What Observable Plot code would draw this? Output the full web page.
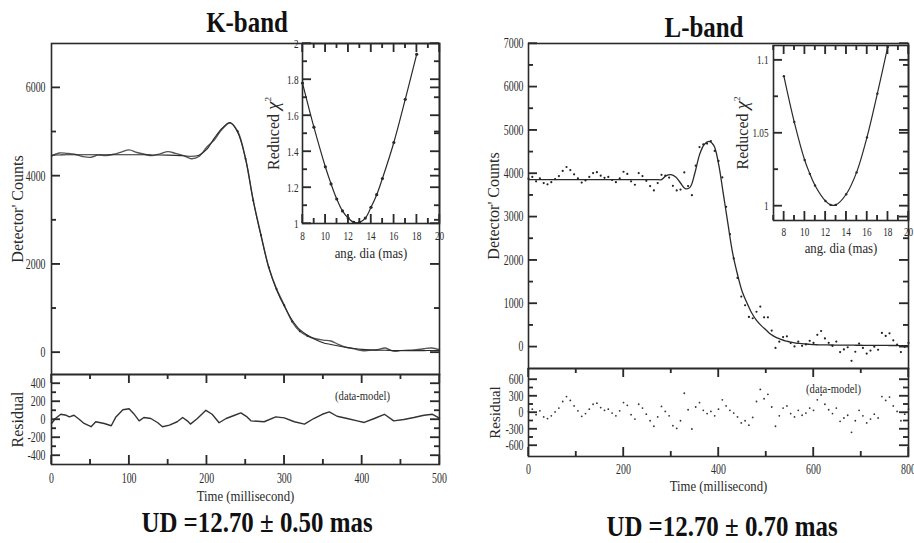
<!DOCTYPE html>
<html><head><meta charset="utf-8">
<script src="https://cdn.jsdelivr.net/npm/d3@7"></script>
<script src="https://cdn.jsdelivr.net/npm/@observablehq/plot@0.6"></script>
<style>
body{margin:0;background:#fff;}
#root{position:relative;width:914px;height:543px;overflow:hidden;font-family:"Liberation Serif","Times New Roman",serif;background:#fff;}
.p{position:absolute;}
.p svg{overflow:visible;background:transparent;}
.ttl{position:absolute;font-weight:bold;font-size:30px;color:#111;white-space:nowrap;line-height:1;transform:translate(-50%,-50%) scaleX(0.83);}
</style></head><body><div id="root"></div>
<script>
// ---------- K-band data ----------
const kTime = [0,10,20,30,40,50,60,70,80,90,100,110,120,130,140,150,160,170,180,190,200,210,220,230,240,250,260,270,280,290,300,310,320,330,340,350,360,370,380,390,400,410,420,430,440,450,460,470,480,490,500];
const kModel = [4470,4475,4480,4480,4480,4480,4480,4480,4480,4480,4480,4480,4478,4475,4472,4470,4465,4455,4445,4470,4600,4860,5080,5210,4983,4400,3440,2640,1920,1420,1045,735,515,390,295,220,180,145,115,90,70,58,52,48,45,43,42,42,42,43,45];
const kData = [4450,4520,4510,4490,4440,4420,4470,4460,4490,4540,4590,4530,4490,4460,4500,4550,4510,4460,4390,4440,4650,4820,5060,5200,5010,4390,3440,2660,1930,1440,1070,700,480,370,310,280,260,180,115,80,40,50,60,100,30,40,50,60,85,100,60];
const kResTime = [0,5,12,19,23,29,36,42,51,57,68,77,83,92,100,106,113,119,128,137,143,152,162,169,175,179,188,199,207,216,225,236,244,252,257,274,289,300,313,326,338,349,358,368,381,394,403,416,429,441,454,467,480,491,497,500];
const kResid = [-44,11,58,47,29,47,0,-44,-80,-25,-44,-69,29,109,120,65,-15,22,11,-36,-80,-62,-25,22,-15,-51,11,102,58,-36,11,47,73,29,-15,-25,29,18,-25,-51,11,58,84,36,11,-15,-33,11,58,-15,0,22,47,58,29,10];
const kDia = [8,9,10,10.5,11,11.5,12,12.5,13,13.5,14,14.5,15,16,17,18];
const kChi = [1.78,1.535,1.315,1.22,1.136,1.07,1.03,1.006,1.006,1.03,1.09,1.16,1.25,1.45,1.69,1.94];

// ---------- L-band data ----------
const lTime = [0,10,20,30,40,50,60,70,80,90,100,110,120,130,140,150,160,170,180,190,200,210,220,230,240,250,260,270,280,290,300,310,320,330,340,350,360,370,380,390,400,410,420,430,440,450,460,470,480,490,500,510,520,530,540,550,560,570,580,590,600,610,620,630,640,650,660,670,680,690,700,710,720,730,740,750,760,770,780,790,800];
const lModel = [3860,3860,3860,3860,3860,3860,3860,3860,3860,3860,3860,3860,3860,3860,3860,3860,3860,3860,3860,3860,3860,3860,3860,3860,3860,3860,3860,3860,3860,3950,3975,3920,3780,3650,3680,4000,4430,4670,4740,4650,4230,3540,2830,2150,1670,1270,1010,780,610,490,390,290,225,180,140,115,90,80,70,60,50,47,45,43,42,41,40,39,38,37,36,35,34,33,32,32,31,31,30,30,30];
const lObsTime = [0,8,16,24,32,40,48,56,64,72,80,88,96,104,112,120,128,136,144,152,160,168,176,184,192,200,208,216,224,232,240,248,256,264,272,280,288,296,304,312,320,328,336,344,352,360,368,376,384,392,400,408,416,424,432,440,448,456,464,472,480,488,496,504,512,520,528,536,544,552,560,568,576,584,592,600,608,616,624,632,640,648,656,664,672,680,688,696,704,712,720,728,736,744,752,760,768,776,784,792,800];
const lData = [3880,3920,3820,3890,3780,3750,3800,3870,3940,4060,4150,4080,3980,3890,3790,3840,3920,4010,4030,3950,3900,3920,3850,3800,3890,4040,3990,3820,3740,4010,3940,3830,3710,3610,3780,3970,3950,3905,3715,3610,3630,4025,3710,3500,4180,4610,4670,4690,4750,4520,4290,3910,3230,2600,2040,1590,1160,960,690,660,810,930,680,680,375,-25,120,225,242,86,10,122,24,56,138,90,276,365,194,93,22,121,-120,-60,-10,-322,-113,76,-25,-155,-86,3,-67,322,252,311,151,50,-120,0,90];
const lResid = [20,60,-40,30,-80,-110,-60,10,80,200,290,220,120,30,-70,-20,60,150,170,90,40,60,-10,-60,30,180,130,-40,-120,150,80,-30,-150,-250,-80,110,20,-60,-240,-290,-150,350,50,-300,100,180,40,-20,20,-60,60,230,120,40,-10,-80,-190,-150,-230,-90,200,420,250,330,100,-250,-60,80,120,-20,-80,40,-50,-10,80,40,230,320,150,50,-20,80,-160,-100,-50,-360,-150,40,-60,-190,-120,-30,-100,290,220,280,120,20,-150,-30,60];
const lDia = [8,9,10,10.5,11,12,12.5,13,14,15,16,17,18];
const lChi = [1.089,1.0575,1.0315,1.022,1.014,1.0034,1.0007,1.0007,1.008,1.023,1.047,1.077,1.109];

// ---------- tick values ----------
const kYMajor = [0,2000,4000,6000], kYMinor = [1000,3000,5000];
const kXMajor = [0,100,200,300,400,500], kXMinor = [50,150,250,350,450];
const kRMajor = [-400,-200,0,200,400], kRMinor = [-300,-100,100,300];
const kIXMajor = [8,10,12,14,16,18,20], kIXMinor = [9,11,13,15,17,19];
const kIYMajor = [1,1.2,1.4,1.6,1.8,2], kIYMinor = [1.1,1.3,1.5,1.7,1.9];
const lYMajor = [0,1000,2000,3000,4000,5000,6000,7000], lYMinor = [500,1500,2500,3500,4500,5500,6500];
const lXMajor = [0,200,400,600,800], lXMinor = [100,300,500,700];
const lRMajor = [-600,-300,0,300,600], lRMinor = [-450,-150,150,450];
const lIXMajor = [8,10,12,14,16,18,20], lIXMinor = [7,9,11,13,15,17,19];
const lIYMajor = [1,1.05,1.1], lIYMinor = [1.025,1.075];

// ---------- tables ----------
const kMain = kTime.map((t,i)=>({t, model:kModel[i], data:kData[i]}));
const kRes = kResTime.map((t,i)=>({t, r:kResid[i]}));
const kChiT = kDia.map((d,i)=>({d, c:kChi[i]}));
const lMain = lTime.map((t,i)=>({t, model:lModel[i]}));
const lObs = lObsTime.map((t,i)=>({t, v:lData[i], r:lResid[i]}));
const lChiT = lDia.map((d,i)=>({d, c:lChi[i]}));

const C = "#2a2a2a";
const NS = "http://www.w3.org/2000/svg";
const root = document.getElementById("root");

function panel(o) {
  const iw = o.width - o.ml - o.mr, ih = o.height - o.mt - o.mb;
  const M = 9, m = 5, sw = 1.3;
  const [x0, x1] = o.xd, [y0, y1] = o.yd;
  const ux = (x1 - x0) / iw, uy = (y1 - y0) / ih;
  const marks = [];
  const yT = (vals, len) => [
    Plot.ruleY(vals, {y: d => d, x1: x0, x2: x0 + len * ux, stroke: C, strokeWidth: sw}),
    Plot.ruleY(vals, {y: d => d, x1: x1 - len * ux, x2: x1, stroke: C, strokeWidth: sw})];
  const xT = (vals, len) => [
    Plot.ruleX(vals, {x: d => d, y1: y0, y2: y0 + len * uy, stroke: C, strokeWidth: sw}),
    Plot.ruleX(vals, {x: d => d, y1: y1 - len * uy, y2: y1, stroke: C, strokeWidth: sw})];
  if (o.yMaj) marks.push(...yT(o.yMaj, M));
  if (o.yMin) marks.push(...yT(o.yMin, m));
  if (o.xMaj) marks.push(...xT(o.xMaj, M));
  if (o.xMin) marks.push(...xT(o.xMin, m));
  marks.push(...o.marks);
  if (o.yLab) marks.push(Plot.axisY(o.yLab, {anchor: "left", tickSize: 0, tickPadding: o.yPad, fontSize: o.fs, tickFormat: d => String(d), fill: C, stroke: "none", label: null}));
  if (o.xLab) marks.push(Plot.axisX(o.xLab, {anchor: "bottom", tickSize: 0, tickPadding: o.xPad, fontSize: o.fs, tickFormat: d => String(d), fill: C, stroke: "none", label: null}));
  if (o.yTitle) marks.push(Plot.text([o.yTitle], {text: d => d, frameAnchor: "left", textAnchor: "middle", lineAnchor: "middle", dx: o.yTitleDx, rotate: -90, fontSize: o.yTitleFs || 16, fill: C}));
  if (o.xTitle) marks.push(Plot.text([o.xTitle], {text: d => d, frameAnchor: "bottom", textAnchor: "middle", lineAnchor: "middle", dy: o.xTitleDy, fontSize: 15, fill: C}));
  if (o.note) marks.push(Plot.text([o.note], {text: d => d, frameAnchor: "top", textAnchor: "middle", lineAnchor: "middle", dx: o.noteDx, dy: o.noteDy, fontSize: 12.5, fill: C}));
  marks.push(Plot.frame({stroke: C, strokeWidth: 1.6}));
  const svg = Plot.plot({
    width: o.width, height: o.height,
    marginTop: o.mt, marginRight: o.mr, marginBottom: o.mb, marginLeft: o.ml,
    x: {domain: o.xd, ...(o.xLab ? {} : {axis: null})},
    y: {domain: o.yd},
    style: {fontFamily: "Liberation Serif, Times New Roman, serif", background: "transparent", overflow: "visible"},
    marks
  });
  // reinforce the inward ticks through the plot's own scales
  const sx = svg.scale("x"), sy = svg.scale("y");
  const X0 = o.ml, X1 = o.width - o.mr, Y0 = o.mt, Y1 = o.height - o.mb;
  const g = document.createElementNS(NS, "g");
  g.setAttribute("stroke", C); g.setAttribute("stroke-width", sw);
  const L = (a, b, c, d) => { const l = document.createElementNS(NS, "line");
    l.setAttribute("x1", a); l.setAttribute("y1", b); l.setAttribute("x2", c); l.setAttribute("y2", d); g.appendChild(l); };
  const addY = (vals, len) => (vals || []).forEach(v => { const p = sy.apply(v); L(X0, p, X0 + len, p); L(X1 - len, p, X1, p); });
  const addX = (vals, len) => (vals || []).forEach(v => { const p = sx.apply(v); L(p, Y1 - len, p, Y1); L(p, Y0, p, Y0 + len); });
  addY(o.yMaj, M); addY(o.yMin, m); addX(o.xMaj, M); addX(o.xMin, m);
  svg.appendChild(g);
  const wrap = document.createElement("div");
  wrap.className = "p";
  wrap.style.left = o.left + "px";
  wrap.style.top = o.top + "px";
  wrap.appendChild(svg);
  root.appendChild(wrap);
}

// K-band main
panel({left:0, top:0, width:460, height:380, mt:43, mr:21, mb:6, ml:51,
  xd:[0,500], yd:[-500,7000], yMaj:kYMajor, yMin:kYMinor, yLab:kYMajor, yPad:6, fs:14.5,
  yTitle:"Detector' Counts", yTitleDx:-34,
  marks:[
    Plot.line(kMain, {x:"t", y:"data", stroke:"#555", strokeWidth:1.4, curve:"catmull-rom"}),
    Plot.line(kMain, {x:"t", y:"model", stroke:C, strokeWidth:1.1, curve:"catmull-rom"}),
    Plot.dot(kMain, {x:"t", y:"data", r:1, fill:C, filter:d=>d.t>=240 && d.t<=330})
  ]});
// K-band residual
panel({left:0, top:372, width:460, height:171, mt:2, mr:21, mb:79, ml:51,
  xd:[0,500], yd:[-500,500], yMaj:kRMajor, yMin:kRMinor, yLab:kRMajor, yPad:6,
  xMaj:kXMajor, xMin:kXMinor, xLab:kXMajor, xPad:8, fs:14.5,
  yTitle:"Residual", yTitleDx:-34, xTitle:"Time (millisecond)", xTitleDy:32,
  note:"(data-model)", noteDx:117, noteDy:21,
  marks:[ Plot.line(kRes, {x:"t", y:"r", stroke:"#333", strokeWidth:1.4}) ]});
// K-band inset
panel({left:240, top:0, width:220, height:265, mt:43, mr:21, mb:42, ml:62,
  xd:[8,20], yd:[1,2], yMaj:kIYMajor, yMin:kIYMinor, yLab:kIYMajor, yPad:4,
  xMaj:kIXMajor, xMin:kIXMinor, xLab:kIXMajor, xPad:7, fs:13.5,
  yTitle:"Reduced \u03C7\u00B2", yTitleDx:-29, xTitle:"ang. dia (mas)", xTitleDy:30,
  marks:[
    Plot.line(kChiT, {x:"d", y:"c", stroke:C, strokeWidth:1.2, curve:"catmull-rom"}),
    Plot.dot(kChiT, {x:"d", y:"c", r:1.6, fill:C})
  ]});
// L-band main
panel({left:460, top:0, width:454, height:375, mt:43, mr:6, mb:7, ml:68,
  xd:[0,800], yd:[-500,7000], yMaj:lYMajor, yMin:lYMinor, yLab:lYMajor, yPad:5, fs:14.5,
  yTitle:"Detector' Counts", yTitleDx:-35,
  marks:[
    Plot.line(lMain, {x:"t", y:"model", stroke:C, strokeWidth:1.3, curve:"catmull-rom"}),
    Plot.dot(lObs, {x:"t", y:"v", r:1.1, fill:"#222"})
  ]});
// L-band residual
panel({left:460, top:366, width:454, height:177, mt:2, mr:6, mb:87, ml:68,
  xd:[0,800], yd:[-800,800], yMaj:lRMajor, yMin:lRMinor, yLab:lRMajor, yPad:5,
  xMaj:lXMajor, xMin:lXMinor, xLab:lXMajor, xPad:7, fs:14.5,
  yTitle:"Residual", yTitleDx:-33, yTitleFs:15, xTitle:"Time (millisecond)", xTitleDy:30,
  note:"(data-model)", noteDx:115, noteDy:20,
  marks:[ Plot.dot(lObs, {x:"t", y:"r", r:0.9, fill:"#333"}) ]});
// L-band inset
panel({left:700, top:0, width:214, height:265, mt:45, mr:6, mb:45, ml:73,
  xd:[7,20], yd:[0.99,1.11], yMaj:lIYMajor, yMin:lIYMinor, yLab:lIYMajor, yPad:5,
  xMaj:lIXMajor, xMin:lIXMinor, xLab:lIXMajor, xPad:6, fs:13.5,
  yTitle:"Reduced \u03C7\u00B2", yTitleDx:-31, xTitle:"ang. dia (mas)", xTitleDy:28,
  marks:[
    Plot.line(lChiT, {x:"d", y:"c", stroke:C, strokeWidth:1.2, curve:"catmull-rom"}),
    Plot.dot(lChiT, {x:"d", y:"c", r:1.2, fill:C})
  ]});

// headings
[["K-band",247,22],["L-band",704,27],["UD =12.70 \u00B1 0.50 mas",257,522],["UD =12.70 \u00B1 0.70 mas",722,526]].forEach(([s,x,y])=>{
  const d = document.createElement("div");
  d.className = "ttl"; d.textContent = s;
  d.style.left = x + "px"; d.style.top = y + "px";
  root.appendChild(d);
});

// condense horizontal text to match the squeezed look of the original
document.querySelectorAll("#root svg text").forEach(t => {
  const tr = t.getAttribute("transform") || "";
  if (/rotate/.test(tr)) {
    if (t.textContent === "Reduced \u03C7\u00B2") {
      t.textContent = "";
      const a = document.createElementNS(NS, "tspan"); a.textContent = "Reduced ";
      const b = document.createElementNS(NS, "tspan"); b.textContent = "\u03C7"; b.setAttribute("font-style", "italic"); b.setAttribute("font-size", "19");
      const c = document.createElementNS(NS, "tspan"); c.textContent = "2"; c.setAttribute("font-size", "9"); c.setAttribute("dy", "-8");
      t.append(a, b, c);
    }
    return;
  }
  const g = t.closest("g[aria-label]");
  const isTick = g && /tick label/.test(g.getAttribute("aria-label"));
  const len = t.getComputedTextLength();
  if (len > 0) {
    t.setAttribute("textLength", (len * (isTick ? 0.68 : 0.85)).toFixed(1));
    t.setAttribute("lengthAdjust", "spacingAndGlyphs");
  }
});
</script>
</body></html>
